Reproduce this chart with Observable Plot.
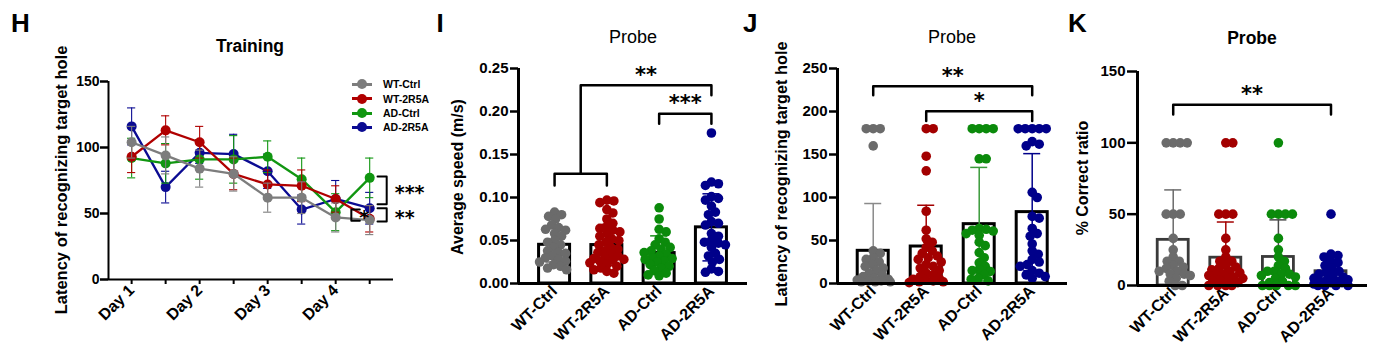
<!DOCTYPE html>
<html>
<head>
<meta charset="utf-8">
<script src="https://cdn.jsdelivr.net/npm/d3@7"></script>
<script src="https://cdn.jsdelivr.net/npm/@observablehq/plot@0.6"></script>
<style>
body{margin:0;background:#fff;}
#fig{position:relative;width:1390px;height:357px;overflow:hidden;background:#fff;}
#fig svg{position:absolute;left:0;top:0;overflow:visible;}
#fig svg [aria-label^="y-axis"] line, #fig svg [aria-label^="y-axis"] path{stroke-width:2.5px;}
#fig svg [aria-label^="x-axis"] line, #fig svg [aria-label^="x-axis"] path{stroke-width:2px;}
#fig svg [aria-label^="x-axis"] text{font-size:16px;}
</style>
</head>
<body>
<div id="fig"></div>
<script>
// ---------- shared categories ----------
const groups = ["WT-Ctrl", "WT-2R5A", "AD-Ctrl", "AD-2R5A"];
const dotColors = ["#6b6b6b", "#a30000", "#0b8a0b", "#00008a"];
const lineColors = ["#7d7d7d", "#b00000", "#119611", "#0b0b92"];

// ---------- H: Training ----------
const dayTicks = [1, 2, 3, 4, 5, 6, 7, 8];
const dayLabels = ["Day 1", "", "Day 2", "", "Day 3", "", "Day 4", ""];
const trainWTCtrl   = [104, 94, 84, 80, 62, 62, 47, 45];
const trainWTCtrlSE = [12, 14, 14, 13, 11, 12, 11, 11];
const trainWT2R5A   = [93, 113, 104, 80, 72, 71, 61, 46];
const trainWT2R5ASE = [12, 11, 12, 12, 11, 12, 10, 10];
const trainADCtrl   = [92, 88, 91, 91, 93, 76, 51, 77];
const trainADCtrlSE = [15, 15, 15, 18, 12, 16, 14, 15];
const trainAD2R5A   = [116, 70, 96, 95, 82, 53, 61, 54];
const trainAD2R5ASE = [14, 12, 8, 15, 13, 11, 14, 12];
const trainTicksY = [0, 50, 100, 150];
const trainSideBrackets = [
  {x: 8.5, arm: -0.27, y1: 78, y2: 57, label: "***"},
  {x: 8.5, arm: -0.27, y1: 54, y2: 44, label: "**"},
  {x: 7.46, arm: 0.25, y1: 53, y2: 44.5, label: "*"}
];

// ---------- I: Probe average speed ----------
const speedWTCtrl = [0.083, 0.080, 0.078, 0.075, 0.068, 0.065, 0.063, 0.062, 0.058, 0.055, 0.050, 0.048, 0.045, 0.042, 0.038, 0.036, 0.035, 0.032, 0.030, 0.028, 0.026, 0.025, 0.022, 0.020, 0.018, 0.016];
const speedWT2R5A = [0.097, 0.096, 0.094, 0.086, 0.082, 0.075, 0.070, 0.066, 0.064, 0.062, 0.060, 0.058, 0.055, 0.052, 0.050, 0.048, 0.045, 0.042, 0.040, 0.038, 0.036, 0.034, 0.032, 0.030, 0.029, 0.028, 0.027, 0.026, 0.024, 0.022, 0.020, 0.018, 0.016, 0.014, 0.012];
const speedADCtrl = [0.088, 0.075, 0.063, 0.060, 0.052, 0.048, 0.045, 0.042, 0.040, 0.038, 0.036, 0.034, 0.032, 0.030, 0.029, 0.028, 0.026, 0.025, 0.022, 0.020, 0.018, 0.015, 0.012, 0.010, 0.009];
const speedAD2R5A = [0.175, 0.118, 0.116, 0.114, 0.101, 0.099, 0.097, 0.090, 0.083, 0.080, 0.072, 0.070, 0.068, 0.058, 0.055, 0.050, 0.048, 0.047, 0.045, 0.042, 0.035, 0.032, 0.028, 0.025, 0.017, 0.014, 0.013];
const speedMean = [0.045, 0.0447, 0.0354, 0.0653];
const speedSD = [0.020, 0.024, 0.020, 0.039];
const speedTicks = [0, 0.05, 0.10, 0.15, 0.20, 0.25];
const speedComparisons = [
  {from: 0, to: 1, y: 0.1276, dropL: 0.0137, dropR: 0.0137, label: ""},
  {from: 0.5, to: 3, y: 0.2305, dropL: 0.1029, dropR: 0.0116, label: "**"},
  {from: 2, to: 3, y: 0.1975, dropL: 0.0116, dropR: 0.0116, label: "***"}
];

// ---------- J: Probe latency ----------
const latencyWTCtrl = [180, 180, 180, 160, 38, 35, 30, 28, 25, 22, 20, 18, 15, 12, 10, 8, 6, 5, 4, 3, 3, 2, 2, 2];
const latencyWT2R5A = [180, 180, 148, 131, 84, 62, 52, 48, 42, 38, 35, 32, 30, 28, 25, 22, 20, 18, 15, 12, 10, 8, 6, 5, 4, 3, 2, 2, 1];
const latencyADCtrl = [180, 180, 180, 180, 145, 145, 64, 63, 62, 61, 58, 56, 48, 44, 36, 30, 24, 20, 16, 15, 14, 10, 6, 5, 3];
const latencyAD2R5A = [180, 180, 180, 180, 180, 165, 162, 160, 106, 100, 78, 76, 64, 58, 55, 46, 38, 34, 28, 25, 22, 20, 15, 12, 10, 8, 6];
const latencyMean = [38, 43, 69, 83];
const latencySD = [55, 48, 66, 68];
const latencyTicks = [0, 50, 100, 150, 200, 250];
const latencyComparisons = [
  {from: 0, to: 3, y: 229.4, dropL: 10.5, dropR: 10.5, label: "**"},
  {from: 1, to: 3, y: 200.2, dropL: 11.3, dropR: 11.3, label: "*"}
];

// ---------- K: Probe % correct ----------
const correctWTCtrl = [100, 100, 100, 100, 50, 50, 50, 33, 25, 20, 17, 17, 14, 13, 12, 10, 10, 8, 8, 7, 5, 3, 0, 0];
const correctWT2R5A = [100, 100, 50, 50, 50, 33, 25, 20, 17, 17, 14, 13, 12, 11, 10, 9, 8, 8, 7, 6, 5, 5, 4, 3, 2, 0, 0, 0, 0];
const correctADCtrl = [100, 50, 50, 50, 50, 33, 25, 20, 17, 14, 12, 10, 10, 8, 8, 7, 6, 5, 3, 2, 0, 0, 0, 0, 0];
const correctAD2R5A = [50, 22, 21, 20, 17, 16, 14, 12, 10, 9, 8, 7, 6, 5, 4, 4, 3, 3, 2, 2, 1, 0, 0, 0, 0];
const correctMean = [32, 19.5, 20, 10];
const correctSD = [35, 25, 26, 12];
const correctTicks = [0, 50, 100, 150];
const correctComparisons = [
  {from: 0, to: 3, y: 126.7, dropL: 6.8, dropR: 6.8, label: "**"}
];

// ---------- helpers ----------
const W = 1390, H = 357;
const FONT = "'Liberation Sans', Arial, Helvetica, sans-serif";
const fig = document.getElementById("fig");

function addText(txt, x, y, o = {}) {
  const d = document.createElement("div");
  d.textContent = txt;
  const tx = o.anchor === "start" ? "0" : "-50%";
  d.style.cssText = `position:absolute;left:${x}px;top:${y}px;white-space:nowrap;` +
    `font-family:${FONT};font-weight:${o.weight || "bold"};font-size:${o.size || 16}px;line-height:1;color:#000;` +
    `transform:translate(${tx},-50%)${o.rotate ? " rotate(-90deg)" : ""};`;
  fig.appendChild(d);
}

function baseStyle(size) {
  return {fontFamily: FONT, fontSize: size + "px", fontWeight: "bold", background: "transparent", overflow: "visible", color: "black"};
}

// deterministic beeswarm: horizontal pixel offsets that avoid heavy overlap
function swarm(vals, gi, yPx, pxPerUnit, minD, maxOff) {
  const placed = [], out = [];
  for (const v of vals) {
    const py = yPx(v);
    let chosen = null, bestOv = Infinity, bestOff = 0;
    for (let k = 0; k <= maxOff && chosen === null; k++) {
      for (const off of (k === 0 ? [0] : [k, -k])) {
        let ov = 0;
        for (const p of placed) {
          const dd = Math.hypot(p.off - off, p.py - py);
          if (dd < minD) ov += minD - dd;
        }
        if (ov === 0) { chosen = off; break; }
        if (ov < bestOv - 1e-9) { bestOv = ov; bestOff = off; }
      }
    }
    if (chosen === null) chosen = bestOff;
    placed.push({off: chosen, py});
    out.push({x: gi + chosen / pxPerUnit, v, g: gi});
  }
  return out;
}

// ---------- Panel H ----------
(function () {
  const frame = {left: 108, right: 393, top: 81, bottom: 279};
  const xDomain = [0.32, 8.7];
  const series = [
    {m: trainWTCtrl, se: trainWTCtrlSE},
    {m: trainWT2R5A, se: trainWT2R5ASE},
    {m: trainADCtrl, se: trainADCtrlSE},
    {m: trainAD2R5A, se: trainAD2R5ASE}
  ];
  const cap = 0.12;
  const marks = [];
  for (let i = series.length - 1; i >= 0; i--) {
    const c = lineColors[i];
    const rows = dayTicks.map((d, j) => ({day: d, mean: series[i].m[j], lo: series[i].m[j] - series[i].se[j], hi: series[i].m[j] + series[i].se[j]}));
    marks.push(
      Plot.ruleX(rows, {x: "day", y1: "lo", y2: "hi", stroke: c, strokeWidth: 1.1}),
      Plot.ruleY(rows, {y: "hi", x1: d => d.day - cap, x2: d => d.day + cap, stroke: c, strokeWidth: 1.1}),
      Plot.ruleY(rows, {y: "lo", x1: d => d.day - cap, x2: d => d.day + cap, stroke: c, strokeWidth: 1.1}),
      Plot.line(rows, {x: "day", y: "mean", stroke: c, strokeWidth: 2.3}),
      Plot.dot(rows, {x: "day", y: "mean", r: 5, fill: c, stroke: "none"})
    );
  }
  const brPts = trainSideBrackets.flatMap((b, k) => [
    {id: k, x: b.x + b.arm, y: b.y1}, {id: k, x: b.x, y: b.y1},
    {id: k, x: b.x, y: b.y2}, {id: k, x: b.x + b.arm, y: b.y2}
  ]);
  marks.push(
    Plot.line(brPts, {x: "x", y: "y", z: "id", stroke: "black", strokeWidth: 2}),
    Plot.text(trainSideBrackets, {x: "x", y: d => (d.y1 + d.y2) / 2, text: "label", textAnchor: "start",
      dx: 8, dy: 3, fontFamily: "DejaVu Sans", fontWeight: "bold", fontSize: 19, fill: "black"}),
    Plot.ruleX([xDomain[0]], {stroke: "black", strokeWidth: 2}),
    Plot.ruleY([0], {stroke: "black", strokeWidth: 2})
  );
  const svg = Plot.plot({
    width: W, height: H,
    marginLeft: frame.left, marginRight: W - frame.right, marginTop: frame.top, marginBottom: H - frame.bottom,
    style: baseStyle(14),
    x: {domain: xDomain, ticks: dayTicks, tickFormat: d => dayLabels[d - 1], tickRotate: -45, tickSize: 5, tickPadding: 3, label: null},
    y: {domain: [0, 150], ticks: trainTicksY, tickSize: 8, tickPadding: 1, label: null},
    marks
  });
  fig.appendChild(svg);

  // legend
  const rowY = [84, 98.5, 113, 127];
  for (let i = 0; i < groups.length; i++) {
    const ln = document.createElement("div");
    ln.style.cssText = `position:absolute;left:352px;top:${rowY[i] - 1.5}px;width:20px;height:3px;background:${lineColors[i]};`;
    const ci = document.createElement("div");
    ci.style.cssText = `position:absolute;left:357px;top:${rowY[i] - 5}px;width:10px;height:10px;border-radius:50%;background:${lineColors[i]};`;
    fig.appendChild(ln); fig.appendChild(ci);
    addText(groups[i], 383, rowY[i], {anchor: "start", size: 10.5});
  }
  addText("H", 11, 23, {anchor: "start", size: 26});
  addText("Training", 250, 46.5, {size: 17.5});
  addText("Latency of recognizing target hole", 61, 180, {size: 16.5, rotate: true});
})();

// ---------- probe panels ----------
function probePanel(cfg) {
  const {frame, xDomain, yDomain, yTicks, yFormat, yTickSize, values, means, sds, barStroke, barWidth, errColors, comparisons, starSize} = cfg;
  const pxPerUnit = (frame.right - frame.left) / (xDomain[1] - xDomain[0]);
  const yPx = v => frame.bottom - (v - yDomain[0]) / (yDomain[1] - yDomain[0]) * (frame.bottom - frame.top);
  const dots = values.flatMap((vals, gi) => swarm(vals, gi, yPx, pxPerUnit, 6.8, 17));
  const bars = means.map((m, i) => ({x: i, mean: m, lo: Math.max(0, m - sds[i]), hi: m + sds[i], loCap: m - sds[i] > 0}));
  const half = 15.5 / pxPerUnit, cap = 8.5 / pxPerUnit;
  const brPts = comparisons.flatMap((c, k) => [
    {id: k, x: c.from, y: c.y - c.dropL}, {id: k, x: c.from, y: c.y},
    {id: k, x: c.to, y: c.y}, {id: k, x: c.to, y: c.y - c.dropR}
  ]);
  const marks = [
    Plot.rectY(bars, {x1: d => d.x - half, x2: d => d.x + half, y1: 0, y2: "mean", fill: "white", stroke: barStroke, strokeWidth: barWidth}),
    Plot.ruleX(bars, {x: "x", y1: "lo", y2: "hi", stroke: (d) => errColors[d.x], strokeWidth: 1.5}),
    Plot.ruleY(bars, {y: "hi", x1: d => d.x - cap, x2: d => d.x + cap, stroke: (d) => errColors[d.x], strokeWidth: 1.5}),
    Plot.ruleY(bars.filter(d => d.loCap), {y: "lo", x1: d => d.x - cap, x2: d => d.x + cap, stroke: (d) => errColors[d.x], strokeWidth: 1.5}),
    Plot.dot(dots, {x: "x", y: "v", r: 4.8, fill: d => dotColors[d.g], stroke: "none"}),
    Plot.line(brPts, {x: "x", y: "y", z: "id", stroke: "black", strokeWidth: 2.5}),
    Plot.text(comparisons, {x: d => (d.from + d.to) / 2, y: "y", text: "label", dy: -10,
      fontFamily: "DejaVu Sans", fontWeight: "bold", fontSize: starSize, fill: "black"}),
    Plot.ruleX([xDomain[0]], {stroke: "black", strokeWidth: 3}),
    Plot.ruleY([0], {stroke: "black", strokeWidth: 3})
  ];
  return Plot.plot({
    width: W, height: H,
    marginLeft: frame.left, marginRight: W - frame.right, marginTop: frame.top, marginBottom: H - frame.bottom,
    style: baseStyle(15),
    x: {domain: xDomain, ticks: [0, 1, 2, 3], tickFormat: i => groups[i], tickRotate: -45, tickSize: 0, tickPadding: 5, label: null},
    y: {domain: yDomain, ticks: yTicks, tickFormat: yFormat, tickSize: yTickSize, tickPadding: 2, label: null},
    marks
  });
}

// I
fig.appendChild(probePanel({
  frame: {left: 518, right: 747, top: 68, bottom: 283},
  xDomain: [-0.69, 3.69], yDomain: [0, 0.25], yTicks: speedTicks, yFormat: d3.format(".2f"), yTickSize: 8,
  values: [speedWTCtrl, speedWT2R5A, speedADCtrl, speedAD2R5A], means: speedMean, sds: speedSD,
  barStroke: "black", barWidth: 3, errColors: ["#6b6b6b", "#a30000", "#1a8f1a", "#00008a"],
  comparisons: speedComparisons, starSize: 21
}));
addText("I", 436.5, 23, {anchor: "start", size: 26});
addText("Probe", 633, 36.5, {size: 18, weight: "normal"});
addText("Average speed (m/s)", 458, 177, {size: 16, rotate: true});

// J
fig.appendChild(probePanel({
  frame: {left: 837, right: 1067, top: 68, bottom: 283},
  xDomain: [-0.674, 3.666], yDomain: [0, 250], yTicks: latencyTicks, yFormat: d3.format("d"), yTickSize: 8,
  values: [latencyWTCtrl, latencyWT2R5A, latencyADCtrl, latencyAD2R5A], means: latencyMean, sds: latencySD,
  barStroke: "black", barWidth: 3, errColors: ["#8a8a8a", "#a30000", "#3a9a3a", "#00008a"],
  comparisons: latencyComparisons, starSize: 21
}));
addText("J", 743, 23, {anchor: "start", size: 26});
addText("Probe", 952, 36.5, {size: 18, weight: "normal"});
addText("Latency of recognizing target hole", 780.5, 174, {size: 16.3, rotate: true});

// K
fig.appendChild(probePanel({
  frame: {left: 1137, right: 1367, top: 71, bottom: 285},
  xDomain: [-0.679, 3.694], yDomain: [0, 150], yTicks: correctTicks, yFormat: d3.format("d"), yTickSize: 10,
  values: [correctWTCtrl, correctWT2R5A, correctADCtrl, correctAD2R5A], means: correctMean, sds: correctSD,
  barStroke: "#3a3a3a", barWidth: 2.8, errColors: ["#6b6b6b", "#a30000", "#4a4a4a", "#00008a"],
  comparisons: correctComparisons, starSize: 21
}));
addText("K", 1068, 23, {anchor: "start", size: 26});
addText("Probe", 1252, 38.5, {size: 17.5});
addText("% Correct ratio", 1082.5, 178, {size: 16, rotate: true});
</script>
</body>
</html>
